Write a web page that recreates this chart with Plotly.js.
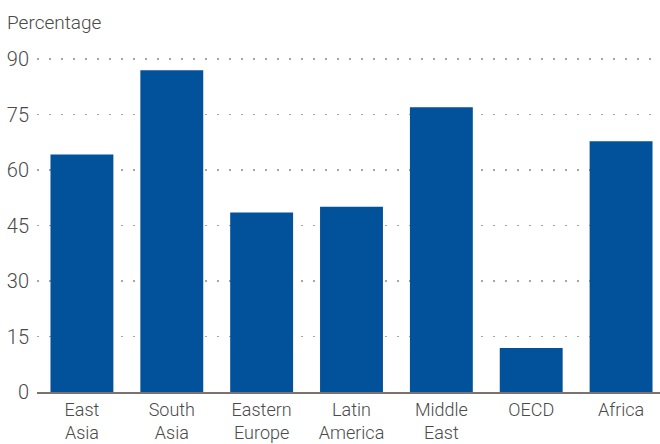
<!DOCTYPE html>
<html>
<head>
<meta charset="utf-8">
<script src="https://cdn.plot.ly/plotly-3.0.1.min.js"></script>
<style>
html,body{margin:0;padding:0;overflow:hidden;background:#fff;}
#chart{width:666px;height:444px;}
</style>
</head>
<body>
<div id="chart"></div>
<script>
const categories = ["East<br>Asia", "South<br>Asia", "Eastern<br>Europe", "Latin<br>America", "Middle<br>East", "OECD", "Africa"];
const values = [64.2, 87.0, 48.5, 50.1, 77.0, 11.9, 67.8];
const yTicks = [0, 15, 30, 45, 60, 75, 90];
const yTitle = "Percentage";

const W = 666, H = 444;
const fontFam = "Roboto, 'Open Sans', sans-serif";
const textColor = "#4a4a4a";

Plotly.newPlot("chart", [{
  type: "bar",
  x: categories,
  y: values,
  marker: {color: "#02529b", line: {width: 0}},
  hoverinfo: "none"
}], {
  width: W, height: H,
  margin: {l: 37, r: 0, t: 58, b: 52, pad: 0},
  paper_bgcolor: "#ffffff",
  plot_bgcolor: "#ffffff",
  bargap: 0.3,
  showlegend: false,
  title: {
    text: yTitle,
    x: 7 / W, xanchor: "left", xref: "container",
    y: 1 - 22 / H, yanchor: "middle", yref: "container",
    font: {family: fontFam, size: 19, color: textColor, weight: 300}
  },
  xaxis: {
    type: "category",
    showgrid: false,
    showline: true,
    linecolor: "#7d736c",
    linewidth: 2,
    ticks: "",
    tickfont: {family: fontFam, size: 18, color: textColor, weight: 300},
    fixedrange: true
  },
  yaxis: {
    range: [0, 90.3],
    tickvals: yTicks,
    ticktext: yTicks.map(String),
    showgrid: true,
    gridcolor: "#aaa29b",
    gridwidth: 1.5,
    griddash: "2px,10px",
    zeroline: false,
    showline: false,
    ticks: "",
    ticklabelstandoff: 7,
    tickfont: {family: fontFam, size: 20, color: textColor, weight: 300},
    fixedrange: true
  }
}, {displayModeBar: false, staticPlot: true});
</script>
</body>
</html>
